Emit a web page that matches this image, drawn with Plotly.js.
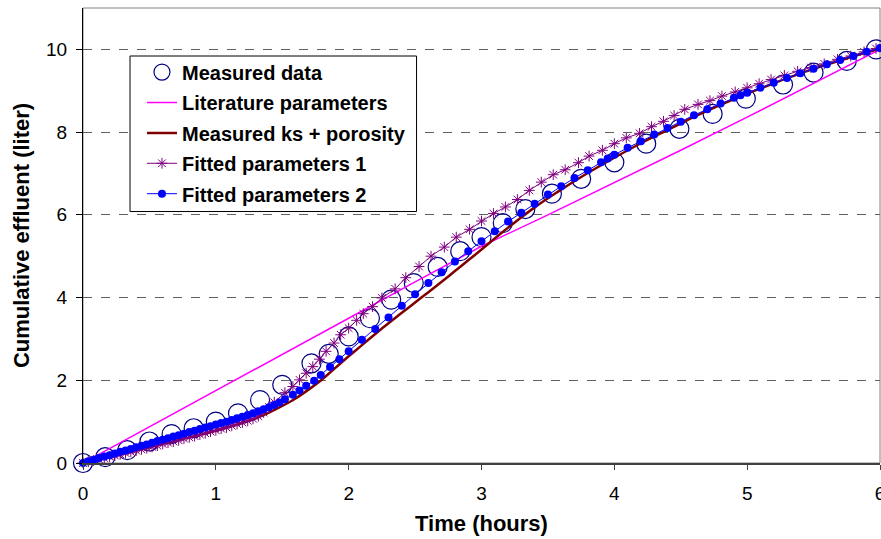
<!DOCTYPE html>
<html>
<head>
<meta charset="utf-8">
<script src="https://cdn.plot.ly/plotly-3.0.1.min.js"></script>
<style>html,body{margin:0;padding:0;background:#fff;}#chart{width:881px;height:539px;}</style>
</head>
<body>
<div id="chart"></div>
<script>
// Measured data
const measT = [0,0.167,0.333,0.5,0.667,0.833,1.0,1.167,1.333,1.5,1.72,1.85,2.0,2.16,2.32,2.49,2.67,2.84,3.0,3.16,3.33,3.53,3.75,4.0,4.24,4.49,4.74,4.99,5.27,5.5,5.75,5.97];
const measY = [0,0.14,0.31,0.52,0.70,0.84,1.0,1.20,1.52,1.89,2.41,2.64,3.06,3.50,3.95,4.35,4.74,5.12,5.46,5.80,6.14,6.51,6.87,7.27,7.72,8.08,8.44,8.81,9.15,9.44,9.72,10.0];

// Literature parameters
const litT = [0,0.5,1,1.5,2,2.5,3,3.5,4,4.5,5,5.5,6];
const litY = [0,0.87,1.74,2.62,3.5,4.38,5.24,6.0,6.77,7.56,8.36,9.17,10.0];

// Measured ks + porosity
const ksT = [0,0.25,0.5,0.75,1.0,1.2,1.3,1.4,1.5,1.6,1.7,1.8,1.9,2.0,2.1,2.2,2.3,2.4,2.5,2.6,2.7,2.8,2.9,3.0,3.1,3.2,3.3,3.4,3.5,3.6,3.8,4.0,4.2,4.4,4.6,4.8,5.0,5.2,5.4,5.6,5.8,6.0];
const ksY = [0,0.18,0.38,0.58,0.78,0.97,1.08,1.22,1.38,1.56,1.78,2.02,2.30,2.58,2.85,3.12,3.38,3.63,3.88,4.13,4.38,4.64,4.90,5.16,5.43,5.69,5.94,6.18,6.40,6.61,7.01,7.38,7.73,8.05,8.37,8.66,8.93,9.18,9.42,9.63,9.83,10.02];

// Fitted parameters 1
const fit1T = [0,0.04,0.08,0.12,0.16,0.2,0.24,0.28,0.32,0.36,0.4,0.44,0.48,0.52,0.56,0.6,0.64,0.68,0.72,0.76,0.8,0.84,0.88,0.92,0.96,1.0,1.04,1.08,1.12,1.16,1.2,1.24,1.28,1.32,1.36,1.4,1.44,1.52,1.58,1.63,1.68,1.73,1.78,1.83,1.89,1.94,2.0,2.06,2.11,2.18,2.25,2.35,2.43,2.53,2.62,2.72,2.81,2.91,3.0,3.09,3.18,3.27,3.36,3.45,3.54,3.63,3.73,3.81,3.91,4.0,4.09,4.19,4.28,4.37,4.45,4.53,4.63,4.72,4.81,4.91,5.0,5.09,5.18,5.28,5.38,5.48,5.58,5.68,5.78,5.88,5.97];
const fit1Y = [0,0.03,0.06,0.09,0.12,0.15,0.18,0.21,0.24,0.27,0.30,0.33,0.36,0.39,0.42,0.46,0.49,0.52,0.55,0.59,0.62,0.65,0.69,0.72,0.76,0.79,0.83,0.86,0.90,0.94,0.98,1.02,1.07,1.13,1.22,1.35,1.47,1.70,1.85,2.01,2.17,2.33,2.51,2.70,2.90,3.10,3.26,3.45,3.61,3.78,3.99,4.21,4.48,4.75,5.00,5.22,5.46,5.65,5.85,6.03,6.19,6.37,6.59,6.79,6.97,7.09,7.26,7.42,7.56,7.72,7.86,7.97,8.13,8.26,8.40,8.55,8.67,8.76,8.87,8.97,9.07,9.17,9.27,9.37,9.47,9.56,9.65,9.76,9.84,9.94,10.02];

// Fitted parameters 2
const fit2T = [0,0.04,0.08,0.12,0.16,0.2,0.24,0.28,0.32,0.36,0.4,0.44,0.48,0.52,0.56,0.6,0.64,0.68,0.72,0.76,0.8,0.84,0.88,0.92,0.96,1.0,1.04,1.08,1.12,1.16,1.2,1.24,1.28,1.32,1.36,1.4,1.44,1.48,1.52,1.58,1.63,1.68,1.74,1.79,1.86,1.93,2.0,2.1,2.2,2.3,2.4,2.5,2.6,2.7,2.8,2.9,3.0,3.1,3.2,3.3,3.4,3.5,3.6,3.7,3.8,3.9,3.95,4.0,4.1,4.2,4.3,4.4,4.5,4.6,4.7,4.8,4.9,4.95,5.0,5.1,5.2,5.3,5.4,5.5,5.6,5.7,5.8,5.9,6.0];
const fit2Y = [0,0.04,0.08,0.12,0.16,0.19,0.23,0.27,0.30,0.34,0.38,0.42,0.45,0.49,0.53,0.56,0.60,0.64,0.67,0.71,0.75,0.78,0.82,0.86,0.89,0.93,0.97,1.00,1.04,1.08,1.12,1.16,1.20,1.25,1.30,1.35,1.40,1.46,1.54,1.65,1.75,1.87,1.99,2.13,2.32,2.51,2.70,2.98,3.24,3.52,3.80,4.08,4.35,4.61,4.87,5.12,5.36,5.60,5.84,6.05,6.27,6.49,6.69,6.89,7.08,7.27,7.36,7.45,7.62,7.78,7.94,8.10,8.25,8.41,8.55,8.69,8.83,8.89,8.95,9.07,9.19,9.31,9.42,9.53,9.64,9.74,9.84,9.94,10.03];

// Legend labels
const names = ['Measured data','Literature parameters','Measured ks + porosity','Fitted parameters 1','Fitted parameters 2'];

const FONT = 'Liberation Sans, Arial, sans-serif';
const b = s => '<b>' + s + '</b>';

const traces = [
  {x: measT, y: measY, name: b(names[0]), type: 'scatter', mode: 'markers', legendgroup: 'a',
   cliponaxis: false,
   marker: {symbol: 'circle-open', size: 19, color: '#000080', line: {color: '#000080', width: 1.2}}},
  {x: litT, y: litY, name: b(names[1]), type: 'scatter', mode: 'lines', legendgroup: 'b',
   line: {color: '#FF00FF', width: 1.5}},
  {x: ksT, y: ksY, name: b(names[2]), type: 'scatter', mode: 'lines', legendgroup: 'c',
   line: {color: '#800000', width: 2.5, shape: 'spline', smoothing: 0.6}},
  {x: fit1T, y: fit1Y, name: b(names[3]), type: 'scatter', mode: 'lines+markers', legendgroup: 'd',
   cliponaxis: false,
   line: {color: '#800080', width: 1},
   marker: {symbol: 'asterisk-open', size: 9, color: '#800080', line: {color: '#800080', width: 1}}},
  {x: fit2T, y: fit2Y, name: b(names[4]), type: 'scatter', mode: 'lines+markers', legendgroup: 'e',
   cliponaxis: false,
   line: {color: '#0000FF', width: 1},
   marker: {symbol: 'circle', size: 8, color: '#0000FF'}}
];

const layout = {
  width: 881, height: 539,
  margin: {l: 83, r: 1, t: 8, b: 76, pad: 0},
  paper_bgcolor: '#ffffff', plot_bgcolor: '#ffffff',
  font: {family: FONT, color: '#000000', size: 19},
  showlegend: true,
  legend: {
    x: 0.074, y: 0.902, xanchor: 'left', yanchor: 'top',
    bgcolor: 'rgba(0,0,0,0)', borderwidth: 0,
    font: {family: FONT, size: 20, color: '#000000'},
    traceorder: 'grouped', tracegroupgap: 1.4, itemwidth: 30
  },
  xaxis: {
    range: [0, 6], tickvals: [0,1,2,3,4,5,6], ticktext: ['0','1','2','3','4','5','6'],
    ticklabeloverflow: 'allow',
    showgrid: false, zeroline: false, showline: true, linecolor: '#404040', linewidth: 1.5,
    ticks: 'outside', ticklen: 5, tickcolor: '#404040', tickwidth: 1,
    ticklabelstandoff: 8,
    tickfont: {family: FONT, size: 19, color: '#000000'},
    title: {text: 'Time (hours)', font: {family: FONT, size: 22, color: '#000000', weight: 'bold'}, standoff: 12}
  },
  yaxis: {
    range: [0, 11], tickvals: [0,2,4,6,8,10], ticktext: ['0','2','4','6','8','10'],
    showgrid: true, gridcolor: '#606060', gridwidth: 1, griddash: 'dash',
    zeroline: false, showline: true, linecolor: '#000000', linewidth: 1,
    ticks: 'outside', ticklen: 6, tickcolor: '#000000', tickwidth: 1,
    ticklabelstandoff: 5,
    tickfont: {family: FONT, size: 19, color: '#000000'},
    title: {text: 'Cumulative effluent (liter)', font: {family: FONT, size: 22, color: '#000000', weight: 'bold'}, standoff: 10}
  },
  shapes: [
    {type: 'rect', xref: 'paper', yref: 'paper', x0: 0, x1: 1, y0: 0, y1: 1,
     line: {color: '#808080', width: 1}, fillcolor: 'rgba(0,0,0,0)', layer: 'below'},
    {type: 'rect', xref: 'paper', yref: 'paper', x0: 0.059, x1: 0.4185, y0: 0.5527, y1: 0.8945,
     line: {color: '#000000', width: 1}, fillcolor: '#ffffff', layer: 'above'}
  ]
};

Plotly.newPlot('chart', traces, layout, {staticPlot: true, displayModeBar: false});
</script>
</body>
</html>
